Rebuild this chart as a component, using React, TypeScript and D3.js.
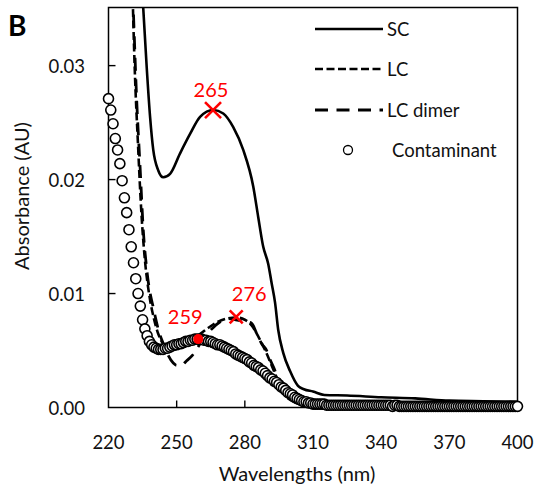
import React from "react";
import * as d3 from "d3";

// Absorbance spectra (wavelength in nm, absorbance in AU)
const scWl = [233, 234, 235.3, 236.8, 238.3, 239.7, 241.9, 244.1, 247.1, 251.5, 255.9, 260.3, 266.1, 270.5, 274.9, 279.3, 283.7, 285.9, 288.1, 290.3, 291.8, 293.3, 294.7, 296.9, 299.9, 303.4, 306, 310, 315, 325, 340, 355, 370, 385, 400];
const scAbs = [0.045, 0.04, 0.035, 0.0299, 0.0255, 0.0226, 0.0208, 0.0202, 0.0205, 0.0223, 0.024, 0.0255, 0.0261, 0.0258, 0.0246, 0.0226, 0.0194, 0.0167, 0.0141, 0.0126, 0.0109, 0.0092, 0.0068, 0.0048, 0.0032, 0.0019, 0.0016, 0.0014, 0.0011, 0.00105, 0.0009, 0.0008, 0.0006, 0.00055, 0.0005];

const lcWl = [230.5, 231.5, 233, 234.5, 236, 238, 240, 242, 244, 246, 249, 252, 256, 260, 264, 268, 272, 276.2, 280, 283, 286, 289, 292, 295, 298, 302, 308, 320, 400];
const lcAbs = [0.037, 0.03, 0.023, 0.017, 0.013, 0.0098, 0.0078, 0.0064, 0.0056, 0.0052, 0.0051, 0.0053, 0.0058, 0.0064, 0.007, 0.0075, 0.0078, 0.0079, 0.0077, 0.0072, 0.0062, 0.005, 0.0036, 0.0022, 0.0011, 0.0005, 0.0002, 0.0001, 0];

const dimerWl = [229.5, 230.9, 232.4, 233.9, 235.3, 236.9, 240, 242, 244.1, 246.2, 248.5, 250, 252, 254.4, 257, 261, 265, 269, 273, 276, 278.6, 283, 285.2, 287.4, 289.6, 291.1, 292.5, 294.7, 295.5, 297.5, 300.6, 304, 310, 320, 340, 400];
const dimerAbs = [0.042, 0.035, 0.027, 0.0211, 0.0156, 0.012, 0.0085, 0.0068, 0.0056, 0.0046, 0.0039, 0.0037, 0.0037, 0.0041, 0.0046, 0.0058, 0.0068, 0.0075, 0.0078, 0.0077, 0.0076, 0.0074, 0.0065, 0.0056, 0.005, 0.0042, 0.0036, 0.0024, 0.0018, 0.0011, 0.0006, 0.0003, 0.0002, 0.0001, 0.0001, 0];

// contaminant: one point per nm, 220..400
const contStart = 220;
const contAbs = [
  0.0271, 0.0261, 0.0249, 0.0236, 0.0226, 0.0214, 0.0199, 0.0184, 0.0171, 0.0156,
  0.0141, 0.0127, 0.0113, 0.01, 0.0089, 0.0077, 0.0069, 0.0063, 0.0058, 0.0055,
  0.0053, 0.0052, 0.0051, 0.0051, 0.0051, 0.0052, 0.0052, 0.0053, 0.0054, 0.0055,
  0.0055, 0.0056, 0.0056, 0.0057, 0.0058, 0.0058, 0.0059, 0.0059, 0.006, 0.006,
  0.006, 0.006, 0.0059, 0.0059, 0.0058, 0.0058, 0.0057, 0.0056, 0.0055, 0.0055,
  0.0054, 0.0053, 0.0052, 0.0051, 0.005, 0.0049, 0.0047, 0.0046, 0.0045, 0.0044,
  0.0043, 0.0042, 0.004, 0.0039, 0.0037, 0.0036, 0.0035, 0.0033, 0.0032, 0.003,
  0.0028, 0.0026, 0.0025, 0.0023, 0.0022, 0.002, 0.0018, 0.0017, 0.0015, 0.0013,
  0.0012, 0.0011, 0.0009, 0.0008, 0.0007, 0.0006, 0.0005, 0.0005, 0.0004, 0.0004,
  0.0003, 0.0003, 0.0003, 0.0003, 0.0003, 0.0003, 0.0002, 0.0002, 0.0002, 0.0002,
  0.0002, 0.0002, 0.0002, 0.0002, 0.0002, 0.0002, 0.0002, 0.0002, 0.0002, 0.0002,
  0.0002, 0.0002, 0.0002, 0.0002, 0.0002, 0.0002, 0.0002, 0.0002, 0.0002, 0.0002,
  0.0002, 0.0002, 0.0002, 0.0002, 0.0002, 0.0001, 0.0002, 0.0002, 0.0001, 0.0001,
  0.0001, 0.0001, 0.0001, 0.0001, 0.0001, 0.0001, 0.0001, 0.0001, 0.0001, 0.0001,
  0.0001, 0.0001, 0.0001, 0.0001, 0.0001, 0.0001, 0.0001, 0.0001, 0.0001, 0.0001,
  0.0001, 0.0001, 0.0001, 0.0001, 0.0001, 0.0001, 0.0001, 0.0001, 0.0001, 0.0001,
  0.0001, 0.0001, 0.0001, 0.0001, 0.0001, 0.0001, 0.0001, 0.0001, 0.0001, 0.0001,
  0.0001, 0.0001, 0.0001, 0.0001, 0.0001, 0.0001, 0.0001, 0.0001, 0.0001, 0.0001,
  0.0001,
];

// peak annotations
const peakWl = [266, 276.2, 259.5];
const peakAbs = [0.0261, 0.00795, 0.006];
const peakLabels = ["265", "276", "259"];

const xTicks = [220, 250, 280, 310, 340, 370, 400];
const yTicks = [0, 0.01, 0.02, 0.03];

const legendLabels = ["SC", "LC", "LC dimer", "Contaminant"];

const W = 540;
const H = 486;
const FONT = "Lato, 'Open Sans', sans-serif";

export default function App() {
  const x = d3.scaleLinear().domain([220, 400]).range([108.5, 517.5]);
  const y = d3.scaleLinear().domain([0, 0.0351]).range([407.5, 7.5]);
  const [x0, x1] = x.range();
  const [y0, y1] = y.range();

  const line = (wl: number[], ab: number[]) =>
    d3
      .line<number>()
      .x((_, i) => x(wl[i]))
      .y((_, i) => y(ab[i]))
      .curve(d3.curveMonotoneX)(ab) || "";

  const contData = contAbs.map((v, i) => ({ wl: contStart + i, v }));

  const lineStyles = [
    { dash: "none", width: 2.6 },
    { dash: "8,3.5", width: 2.6 },
    { dash: "13,8.5", width: 2.8 },
  ];
  const legendY = [29, 69, 110, 150];

  const labelOffsets = [
    [-2, -21],
    [13, -24],
    [-13, -23.5],
  ];

  return (
    <svg
      width={W}
      height={H}
      style={{ position: "absolute", left: 0, top: 0, background: "#fff" }}
      fontFamily={FONT}
    >
      <defs>
        <clipPath id="plot">
          <rect x={x0} y={y1} width={x1 - x0} height={y0 - y1} />
        </clipPath>
      </defs>

      {/* frame */}
      <rect x={x0} y={y1} width={x1 - x0} height={y0 - y1} fill="none" stroke="#000" strokeWidth={1.5} />

      {/* ticks, pointing inward */}
      {xTicks.slice(1, -1).map((t) => (
        <line key={t} x1={x(t)} x2={x(t)} y1={y0} y2={y0 - 7} stroke="#000" strokeWidth={1.4} />
      ))}
      {yTicks.slice(1).map((t) => (
        <line key={t} x1={x0} x2={x0 + 7} y1={y(t)} y2={y(t)} stroke="#000" strokeWidth={1.4} />
      ))}

      {/* tick labels */}
      {xTicks.map((t) => (
        <text key={t} x={x(t)} y={442} textAnchor="middle" dominantBaseline="central" fontSize={18.5} fill="#111">
          {t}
        </text>
      ))}
      {yTicks.map((t) => (
        <text key={t} x={85} y={y(t)} textAnchor="end" dominantBaseline="central" fontSize={18.5} fill="#111">
          {d3.format(".2f")(t)}
        </text>
      ))}

      {/* axis titles */}
      <text x={297} y={481} textAnchor="middle" fontSize={20} fill="#111">
        Wavelengths (nm)
      </text>
      <text transform="translate(29,196) rotate(-90)" textAnchor="middle" fontSize={20} fill="#111">
        Absorbance (AU)
      </text>

      <text x={8} y={36} fontSize={28} fontWeight="bold" fill="#000">
        B
      </text>

      {/* spectra */}
      <g clipPath="url(#plot)" fill="none" stroke="#000">
        <path d={line(scWl, scAbs)} strokeWidth={lineStyles[0].width} />
        <path d={line(lcWl, lcAbs)} strokeWidth={lineStyles[1].width} strokeDasharray={lineStyles[1].dash} />
        <path d={line(dimerWl, dimerAbs)} strokeWidth={lineStyles[2].width} strokeDasharray={lineStyles[2].dash} />
      </g>
      <g>
        {contData.map((d) => (
          <circle key={d.wl} cx={x(d.wl)} cy={y(d.v)} r={5} fill="#fff" stroke="#000" strokeWidth={1.6} />
        ))}
      </g>

      {/* peak markers */}
      {peakWl.map((wl, i) => {
        const cx = x(wl);
        const cy = y(peakAbs[i]);
        const s = i === 0 ? 8 : 6.5;
        return (
          <g key={i}>
            {i < 2 ? (
              <path
                d={`M${cx - s},${cy - s}L${cx + s},${cy + s}M${cx - s},${cy + s}L${cx + s},${cy - s}`}
                stroke="#ff0000"
                strokeWidth={2.6}
              />
            ) : (
              <circle cx={cx} cy={cy} r={5} fill="#ff0000" />
            )}
            <text
              x={cx + labelOffsets[i][0]}
              y={cy + labelOffsets[i][1]}
              textAnchor="middle"
              dominantBaseline="central"
              fontSize={20}
              fill="#ff0000"
            >
              {peakLabels[i]}
            </text>
          </g>
        );
      })}

      {/* legend */}
      <g>
        {legendLabels.map((lab, i) => (
          <g key={lab}>
            {i < 3 ? (
              <line
                x1={315}
                x2={383}
                y1={legendY[i]}
                y2={legendY[i]}
                stroke="#000"
                strokeWidth={lineStyles[i].width}
                strokeDasharray={lineStyles[i].dash}
              />
            ) : (
              <circle cx={348} cy={legendY[i]} r={4.5} fill="#fff" stroke="#000" strokeWidth={1.3} />
            )}
            <text x={i < 3 ? 387 : 392} y={legendY[i]} dominantBaseline="central" fontSize={18.5} fill="#111">
              {lab}
            </text>
          </g>
        ))}
      </g>
    </svg>
  );
}
